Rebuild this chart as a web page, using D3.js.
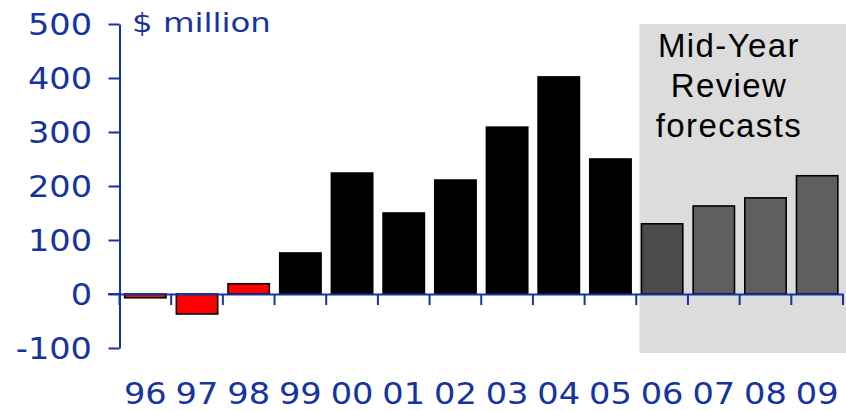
<!DOCTYPE html>
<html><head><meta charset="utf-8">
<script src="https://cdn.jsdelivr.net/npm/d3@7"></script>
<style>body{margin:0;background:#fff}svg{display:block}</style>
</head><body>
<svg id="c" width="846" height="411"></svg>
<script>
const years = ["96","97","98","99","00","01","02","03","04","05","06","07","08","09"];
const values = [-7,-37,19,76,224,150,211,309,402,250,130,163,178,219];
const barKinds = ["neg","neg","neg","act","act","act","act","act","act","act","f1","f2","f2","f2"];
const yTicks = [-100,0,100,200,300,400,500];
const forecastStart = "06";
const unitLabel = "$ million";
const forecastLabel = ["Mid-Year","Review","forecasts"];

const blue = "#1634a0";
const fills = {neg:"#ff0000", act:"#000000", f1:"#4b4b4b", f2:"#5f5f5f"};
const svg = d3.select("#c");
const x = d3.scaleBand().domain(years).range([119.5, 843]).paddingInner(0.2).paddingOuter(0.1);
const y = d3.scaleLinear().domain([-100, 500]).range([348, 24]);

// forecast shaded region
const bx = x(forecastStart) - 2;
svg.append("rect")
  .attr("x", bx).attr("y", y(500)).attr("width", 846 - bx)
  .attr("height", 353 - y(500)).attr("fill", "#dcdcdc");

const ftx = 729;
svg.append("g").selectAll("text").data(forecastLabel).join("text")
  .attr("x", ftx).attr("y", (d,i) => 57 + i*40)
  .attr("text-anchor","middle").attr("font-family","Liberation Sans, Arial, sans-serif")
  .attr("font-size", 33).attr("letter-spacing", 1.4).attr("fill","#000").text(d => d);

// bars
svg.append("g").selectAll("rect").data(values).join("rect")
  .attr("x", (d,i) => x(years[i]))
  .attr("width", x.bandwidth())
  .attr("y", d => y(Math.max(0,d)))
  .attr("height", d => Math.abs(y(d) - y(0)))
  .attr("fill", (d,i) => fills[barKinds[i]])
  .attr("stroke","#000").attr("stroke-width",1.6);

// y axis
const sy = 1.12;
const yAxis = svg.append("g").attr("transform","translate(119.5,0)")
  .call(d3.axisLeft(y).tickValues(yTicks).tickFormat(d => String(d)).tickSize(11).tickSizeOuter(0));
yAxis.select(".domain").attr("stroke", blue).attr("stroke-width", 2);
yAxis.selectAll(".tick line").attr("stroke", blue).attr("stroke-width", 2);
yAxis.selectAll(".tick text").attr("fill", blue)
  .attr("font-family","DejaVu Sans, sans-serif").attr("font-size", 30)
  .attr("x", -27.5/sy).attr("dy","0.36em").attr("transform", `scale(${sy},1)`);

// x axis at zero
const sx = 1.14;
const xAxis = svg.append("g").attr("transform", `translate(0,${y(0)})`)
  .call(d3.axisBottom(x).tickSize(0).tickPadding(0));
xAxis.select(".domain").attr("stroke", blue).attr("stroke-width", 2);
xAxis.selectAll(".tick text").attr("fill", blue)
  .attr("font-family","DejaVu Sans, sans-serif").attr("font-size", 29.5)
  .attr("y", 404 - y(0)).attr("dy", 0).attr("transform", `scale(${sx},1)`)
  .attr("x", 0);
// boundary ticks
const bounds = years.map(d => x(d) - x.step()*x.paddingInner()/2).concat([843]);
xAxis.append("g").selectAll("line").data(bounds).join("line")
  .attr("x1", d => d).attr("x2", d => d).attr("y1", 0).attr("y2", 11)
  .attr("stroke", blue).attr("stroke-width", 2);
svg.append("line").attr("x1",108).attr("x2",120).attr("y1",y(0)).attr("y2",y(0))
  .attr("stroke", blue).attr("stroke-width", 2);

svg.append("text").attr("x", 132/1.2).attr("y", 32)
  .attr("font-family","DejaVu Sans, sans-serif").attr("font-size", 27)
  .attr("transform","scale(1.2,1)").attr("fill", blue).text(unitLabel);
</script>
</body></html>
